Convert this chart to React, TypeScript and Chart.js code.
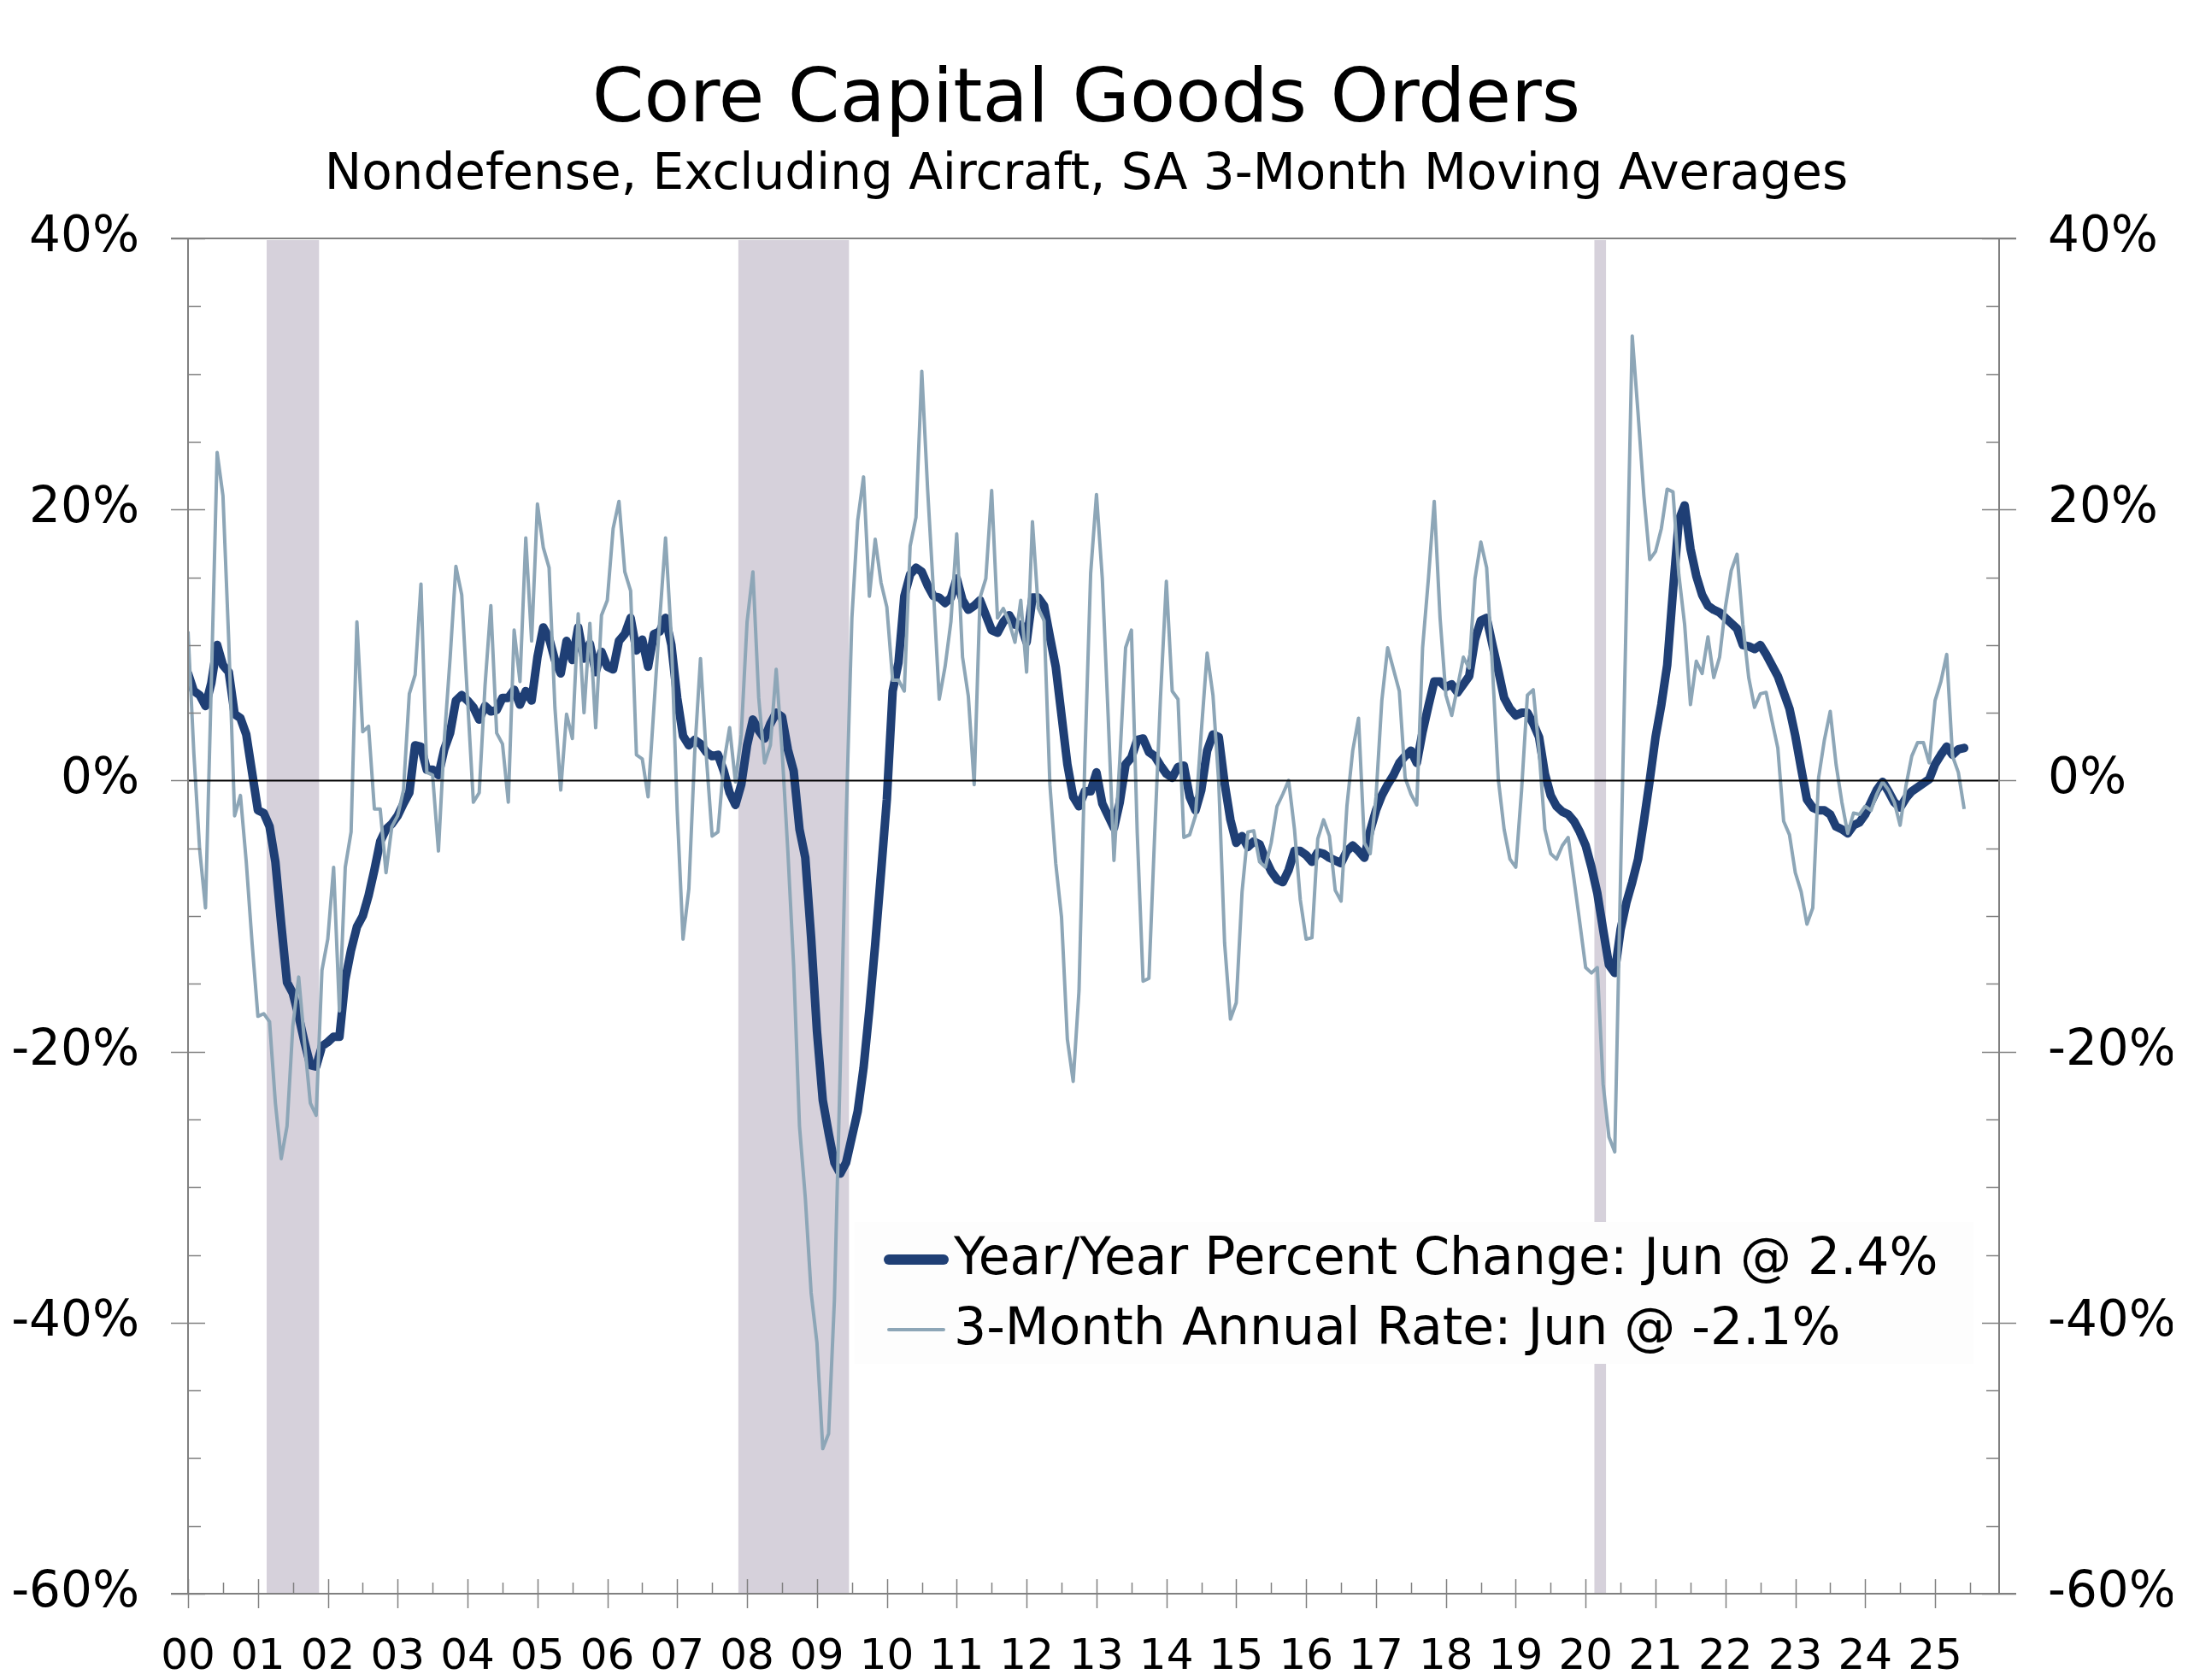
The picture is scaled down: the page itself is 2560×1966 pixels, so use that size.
import React, { useEffect, useRef } from 'react';
import { Chart, registerables } from 'chart.js';

Chart.register(...registerables);

// ---------- DATA (monthly, Jan 2000 .. Jun 2025) ----------
const yearLabels = ['00','01','02','03','04','05','06','07','08','09','10','11','12','13','14','15','16','17','18','19','20','21','22','23','24','25'];
const yTickValues = [-60, -40, -20, 0, 20, 40];

// Year/Year percent change, 3-month moving average
const yoy2000to2004 = [
  7.9, 6.6, 6.3, 5.5, 7.2, 10.0, 8.5, 8.0, 4.9, 4.6, 3.4, 0.6,
  -2.2, -2.4, -3.4, -6.0, -10.6, -14.9, -15.7, -17.4, -19.3, -21.0, -21.1, -19.6,
  -19.3, -18.9, -18.9, -14.7, -12.5, -10.8, -10.0, -8.5, -6.6, -4.5, -3.6, -3.2,
  -2.6, -1.7, -0.9, 2.6, 2.5, 0.8, 0.8, 0.4, 2.3, 3.5, 5.9, 6.3,
  5.9, 5.4, 4.5, 5.5, 5.1, 5.2, 6.1, 6.1, 6.7, 5.6, 6.6, 5.9,
];
const yoy2005to2009 = [
  9.1, 11.3, 10.5, 8.9, 7.9, 10.3, 8.9, 11.3, 9.0, 10.1, 8.0, 9.5,
  8.4, 8.2, 10.3, 10.8, 12.0, 9.6, 10.4, 8.4, 10.8, 11.0, 12.0, 10.0,
  6.1, 3.3, 2.6, 3.0, 2.7, 2.1, 1.8, 1.9, 0.7, -0.9, -1.8, -0.3,
  2.6, 4.5, 3.7, 3.1, 4.2, 5.0, 4.7, 2.3, 0.7, -3.6, -5.7, -11.6,
  -18.5, -23.6, -26.0, -28.2, -29.0, -28.2, -26.3, -24.4, -21.2, -16.9, -12.1, -6.8,
];
const yoy2010to2014 = [
  -1.4, 6.6, 8.7, 13.6, 15.2, 15.7, 15.4, 14.4, 13.6, 13.5, 13.1, 13.5,
  14.9, 13.3, 12.6, 12.9, 13.3, 12.2, 11.1, 10.9, 11.7, 12.2, 11.5, 11.5,
  10.2, 13.5, 13.5, 12.9, 10.6, 8.4, 4.8, 1.2, -1.2, -1.9, -0.8, -0.8,
  0.6, -1.7, -2.6, -3.5, -1.6, 1.2, 1.7, 3.0, 3.1, 2.1, 1.8, 1.1,
  0.5, 0.2, 1.0, 1.1, -1.2, -2.2, -0.7, 2.2, 3.4, 3.2, -0.2, -2.9,
];
const yoy2015to2019 = [
  -4.6, -4.1, -4.9, -4.5, -4.7, -5.8, -6.7, -7.3, -7.5, -6.6, -5.2, -5.2,
  -5.5, -6.0, -5.3, -5.4, -5.7, -5.9, -6.1, -5.2, -4.8, -5.2, -5.7, -3.7,
  -2.2, -1.1, -0.3, 0.4, 1.3, 1.8, 2.2, 1.3, 3.6, 5.5, 7.3, 7.3,
  6.9, 7.1, 6.5, 7.1, 7.7, 10.4, 11.8, 12.0, 10.0, 8.1, 6.1, 5.3,
  4.8, 5.0, 5.0, 4.2, 3.2, 0.5, -1.1, -1.9, -2.3, -2.5, -3.0, -3.8,
];
const yoy2020to2025 = [
  -4.8, -6.4, -8.3, -11.0, -13.6, -14.2, -11.0, -9.0, -7.5, -5.8, -3.0, 0.0,
  3.2, 5.6, 8.5, 14.0, 19.2, 20.3, 17.1, 15.1, 13.7, 12.9, 12.6, 12.4,
  12.0, 11.6, 11.2, 10.0, 9.9, 9.7, 10.0, 9.3, 8.5, 7.7, 6.5, 5.3,
  3.3, 0.9, -1.4, -2.0, -2.2, -2.2, -2.5, -3.4, -3.6, -3.9, -3.3, -3.1,
  -2.5, -1.6, -0.7, -0.1, -0.8, -1.6, -2.0, -1.3, -0.8, -0.5, -0.2, 0.1,
  1.2, 1.9, 2.5, 1.9, 2.3, 2.4,
];

// 3-month annual rate, 3-month moving average
const rate2000to2004 = [
  11.0, 2.0, -5.1, -9.4, 7.2, 24.2, 21.0, 10.2, -2.6, -1.1, -6.0, -12.0,
  -17.4, -17.2, -17.8, -23.8, -27.9, -25.5, -18.1, -14.5, -19.3, -23.8, -24.7, -14.0,
  -11.7, -6.4, -17.0, -6.4, -3.8, 11.7, 3.6, 4.0, -2.1, -2.1, -6.8, -3.4,
  -2.6, -0.7, 6.4, 7.8, 14.5, 0.6, 0.4, -5.2, 3.0, 9.0, 15.8, 13.7,
  6.0, -1.6, -0.9, 7.0, 12.9, 3.5, 2.7, -1.6, 11.1, 7.3, 17.9, 10.3,
];
const rate2005to2009 = [
  20.4, 17.2, 15.7, 5.4, -0.7, 4.9, 3.1, 12.3, 5.0, 11.6, 3.9, 12.2,
  13.3, 18.6, 20.6, 15.4, 14.0, 1.9, 1.6, -1.2, 5.4, 11.9, 17.9, 10.5,
  -2.2, -11.7, -8.0, 2.0, 9.0, 1.8, -4.1, -3.8, 1.3, 3.9, -0.1, 3.4,
  11.7, 15.4, 6.1, 1.3, 2.6, 8.2, 2.3, -5.2, -13.7, -25.5, -30.8, -37.8,
  -41.5, -49.3, -48.2, -38.3, -21.2, -3.0, 12.0, 19.2, 22.4, 13.6, 17.8, 14.6,
];
const rate2010to2014 = [
  12.8, 7.4, 7.4, 6.6, 17.3, 19.4, 30.2, 21.5, 14.0, 6.0, 8.4, 11.7,
  18.2, 9.1, 6.2, -0.3, 13.5, 14.9, 21.4, 12.0, 12.7, 11.7, 10.2, 13.3,
  8.0, 19.1, 12.7, 11.8, -0.3, -6.1, -10.1, -19.1, -22.2, -15.5, 1.5, 15.3,
  21.1, 14.9, 4.8, -5.9, 1.5, 9.8, 11.1, -3.9, -14.8, -14.6, -3.9, 6.2,
  14.7, 6.6, 6.0, -4.2, -4.0, -2.6, 3.6, 9.4, 6.3, -0.2, -12.0, -17.6,
];
const rate2015to2019 = [
  -16.4, -8.2, -3.8, -3.7, -6.0, -6.4, -4.6, -1.9, -1.0, 0.0, -3.6, -8.8,
  -11.7, -11.6, -4.3, -2.9, -4.1, -8.1, -8.9, -1.9, 2.2, 4.6, -4.6, -5.4,
  -1.2, 5.9, 9.8, 8.2, 6.6, 0.2, -1.0, -1.8, 9.8, 14.9, 20.6, 12.0,
  6.3, 4.8, 6.9, 9.1, 8.3, 14.9, 17.6, 15.7, 8.3, 0.1, -3.6, -5.8,
  -6.4, -0.7, 6.3, 6.7, 2.2, -3.6, -5.4, -5.8, -4.8, -4.2, -7.3, -10.5,
];
const rate2020to2025 = [
  -13.8, -14.2, -13.8, -22.4, -26.3, -27.4, -7.0, 13.0, 32.8, 27.1, 21.0, 16.3,
  16.9, 18.6, 21.5, 21.3, 15.2, 11.5, 5.6, 8.8, 7.9, 10.6, 7.6, 9.1,
  12.8, 15.5, 16.7, 11.5, 7.6, 5.4, 6.4, 6.5, 4.4, 2.4, -3.0, -4.0,
  -6.8, -8.2, -10.6, -9.4, 0.2, 3.0, 5.1, 1.2, -1.6, -3.9, -2.4, -2.5,
  -1.9, -2.2, -1.0, -0.1, -0.7, -1.6, -3.3, -0.4, 1.8, 2.8, 2.8, 1.3,
  5.9, 7.3, 9.3, 1.8, 0.6, -2.1,
];

// Recession shading (first and last month shaded)
const recessionStarts = ['2001-03', '2007-12', '2020-03'];
const recessionEnds = ['2001-11', '2009-06', '2020-04'];

const latestMonth = 'Jun';

// ---------- derived ----------
const yoyChange = [...yoy2000to2004, ...yoy2005to2009, ...yoy2010to2014, ...yoy2015to2019, ...yoy2020to2025];
const threeMonthRate = [...rate2000to2004, ...rate2005to2009, ...rate2010to2014, ...rate2015to2019, ...rate2020to2025];
const monthIndex = (s: string) => {
  const [y, m] = s.split('-').map(Number);
  return (y - 2000) * 12 + (m - 1);
};

const YOY_COLOR = '#1F3F75';
const RATE_COLOR = '#8DA6B7';
const AXIS_GRAY = '#808080';
const BAND_COLOR = 'rgb(214,209,219)';
const FONT = '"DejaVu Sans", Verdana, sans-serif';

const yoyLabel = `Year/Year Percent Change: ${latestMonth} @ ${yoyChange[yoyChange.length - 1].toFixed(1)}%`;
const rateLabel = `3-Month Annual Rate: ${latestMonth} @ ${threeMonthRate[threeMonthRate.length - 1].toFixed(1)}%`;

function seg(ctx: CanvasRenderingContext2D, x1: number, y1: number, x2: number, y2: number) {
  ctx.beginPath();
  ctx.moveTo(x1, y1);
  ctx.lineTo(x2, y2);
  ctx.stroke();
}

const bandsPlugin = {
  id: 'recessionBands',
  beforeDatasetsDraw(chart: any) {
    const { ctx, chartArea: a, scales } = chart;
    ctx.save();
    ctx.fillStyle = BAND_COLOR;
    recessionStarts.forEach((s, i) => {
      const x1 = scales.x.getPixelForValue(monthIndex(s) - 0.5);
      const x2 = scales.x.getPixelForValue(monthIndex(recessionEnds[i]) + 0.5);
      ctx.fillRect(x1, a.top + 2, x2 - x1, a.bottom - a.top - 2);
    });
    ctx.restore();
  },
};

const decorPlugin = {
  id: 'axisDecor',
  afterDatasetsDraw(chart: any) {
    const { ctx, chartArea: a, scales } = chart;
    const ys = scales.y;
    const xs = scales.x;
    ctx.save();
    // zero line
    ctx.strokeStyle = '#000';
    ctx.lineWidth = 2;
    const y0 = Math.round(ys.getPixelForValue(0)) + 0.5;
    seg(ctx, a.left, y0, a.right, y0);

    // frame
    ctx.strokeStyle = AXIS_GRAY;
    ctx.lineWidth = 2;
    seg(ctx, a.left, a.top, a.left, a.bottom);
    seg(ctx, a.right, a.top, a.right, a.bottom);
    seg(ctx, a.left - 20, a.top, a.right + 20, a.top);
    seg(ctx, a.left - 20, a.bottom, a.right + 20, a.bottom);

    // y ticks (major every 20, minor every 5)
    for (let v = -60; v <= 40; v += 5) {
      const py = Math.round(ys.getPixelForValue(v)) + 0.5;
      ctx.lineWidth = 1.5;
      if (v % 20 === 0) {
        seg(ctx, a.left - 20, py, v === 0 ? a.left : a.left + 20, py);
        seg(ctx, v === 0 ? a.right : a.right - 20, py, a.right + 20, py);
      } else {
        seg(ctx, a.left, py, a.left + 15, py);
        seg(ctx, a.right - 15, py, a.right, py);
      }
    }

    // x ticks (year: crossing, half-year: inside)
    const last = yoyChange.length;
    for (let m = 0; m <= last; m += 6) {
      const px = Math.round(xs.getPixelForValue(m)) + 0.5;
      ctx.lineWidth = 1.5;
      if (m % 12 === 0) seg(ctx, px, a.bottom - 17, px, a.bottom + 17);
      else seg(ctx, px, a.bottom - 13, px, a.bottom);
    }

    // legend
    const lx = 1000, ly = 1430, lw = 1309, lh = 166;
    ctx.fillStyle = '#FDFDFD';
    ctx.fillRect(lx, ly, lw, lh);
    const rows = [
      { text: yoyLabel, color: YOY_COLOR, width: 12, y: 1474 },
      { text: rateLabel, color: RATE_COLOR, width: 4, y: 1556 },
    ];
    ctx.lineCap = 'round';
    rows.forEach((r) => {
      ctx.strokeStyle = r.color;
      ctx.lineWidth = r.width;
      seg(ctx, 1040, r.y, 1104, r.y);
      ctx.fillStyle = '#000';
      ctx.font = `60px ${FONT}`;
      ctx.textBaseline = 'middle';
      ctx.textAlign = 'left';
      ctx.fillText(r.text, 1116, r.y + 1);
    });
    ctx.restore();
  },
};

export default function App() {
  const ref = useRef<HTMLCanvasElement>(null);

  useEffect(() => {
    if (!ref.current) return;
    Chart.defaults.font.family = FONT;
    Chart.defaults.color = '#000';
    const chart = new Chart(ref.current, {
      type: 'line',
      data: {
        datasets: [
          {
            label: yoyLabel,
            data: yoyChange.map((v, i) => ({ x: i, y: v })),
            borderColor: YOY_COLOR,
            borderWidth: 10,
            pointRadius: 0,
            tension: 0,
            borderJoinStyle: 'round',
            borderCapStyle: 'round',
            order: 2,
            yAxisID: 'y',
          },
          {
            label: rateLabel,
            data: threeMonthRate.map((v, i) => ({ x: i, y: v })),
            borderColor: RATE_COLOR,
            borderWidth: 4,
            pointRadius: 0,
            tension: 0,
            borderJoinStyle: 'round',
            order: 1,
            yAxisID: 'y',
          },
        ],
      },
      options: {
        responsive: false,
        animation: false,
        devicePixelRatio: 1,
        layout: { padding: { left: 0, right: 18, top: 0, bottom: 0 } },
        plugins: {
          legend: { display: false },
          tooltip: { enabled: false },
          title: {
            display: true,
            text: 'Core Capital Goods Orders',
            color: '#000',
            font: { size: 87, weight: 'normal', family: FONT, lineHeight: 1.2 },
            padding: { top: 67, bottom: 0 },
          },
          subtitle: {
            display: true,
            text: 'Nondefense, Excluding Aircraft, SA 3-Month Moving Averages',
            color: '#000',
            font: { size: 58, weight: 'normal', family: FONT, lineHeight: 1.2 },
            padding: { top: 0, bottom: 38 },
          },
        },
        scales: {
          x: {
            type: 'linear',
            min: 0,
            max: 311,
            grid: { display: false, drawTicks: false },
            border: { display: false },
            afterBuildTicks: (s: any) => {
              s.ticks = yearLabels.map((_, i) => ({ value: i * 12 }));
            },
            ticks: {
              autoSkip: false,
              maxRotation: 0,
              minRotation: 0,
              padding: 45,
              color: '#000',
              font: { size: 50, family: FONT },
              callback: (_v: any, i: number) => yearLabels[i] ?? '',
            },
            afterFit: (s: any) => {
              s.height = 101;
            },
          },
          y: {
            type: 'linear',
            position: 'left',
            min: -60,
            max: 40,
            grid: { display: false, drawTicks: false },
            border: { display: false },
            afterBuildTicks: (s: any) => {
              s.ticks = yTickValues.map((v) => ({ value: v }));
            },
            ticks: {
              padding: 57,
              color: '#000',
              font: { size: 58, family: FONT },
              callback: (v: any) => `${v}%`,
            },
            afterFit: (s: any) => {
              s.width = 220;
            },
          },
          y2: {
            type: 'linear',
            position: 'right',
            min: -60,
            max: 40,
            grid: { display: false, drawTicks: false },
            border: { display: false },
            afterBuildTicks: (s: any) => {
              s.ticks = yTickValues.map((v) => ({ value: v }));
            },
            ticks: {
              padding: 57,
              color: '#000',
              font: { size: 58, family: FONT },
              callback: (v: any) => `${v}%`,
            },
            afterFit: (s: any) => {
              s.width = 203;
            },
          },
        },
      } as any,
      plugins: [bandsPlugin, decorPlugin],
    });
    return () => chart.destroy();
  }, []);

  return (
    <div style={{ position: 'fixed', left: 0, top: 0, width: 2560, height: 1966, background: '#fff' }}>
      <canvas ref={ref} width={2560} height={1966} style={{ display: 'block', width: 2560, height: 1966 }} />
    </div>
  );
}
